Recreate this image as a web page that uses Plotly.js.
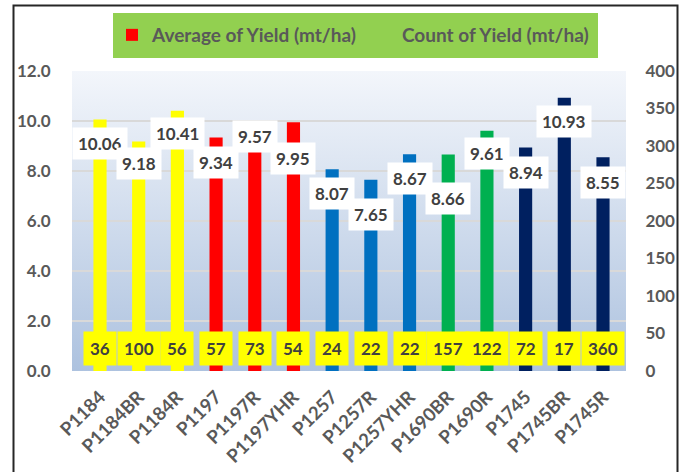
<!DOCTYPE html>
<html>
<head>
<meta charset="utf-8">
<script src="https://cdn.plot.ly/plotly-3.0.1.min.js"></script>
<style>html,body{margin:0;padding:0;background:#fff;}#chart{width:682px;height:472px;}</style>
</head>
<body>
<div id="chart"></div>
<script>
// ---- data ----
const categories = ['P1184','P1184BR','P1184R','P1197','P1197R','P1197YHR','P1257','P1257R','P1257YHR','P1690BR','P1690R','P1745','P1745BR','P1745R'];
const avgYield = [10.06, 9.18, 10.41, 9.34, 9.57, 9.95, 8.07, 7.65, 8.67, 8.66, 9.61, 8.94, 10.93, 8.55];
const countYield = [36, 100, 56, 57, 73, 54, 24, 22, 22, 157, 122, 72, 17, 360];
const varietyGroup = ['P1184','P1184','P1184','P1197','P1197','P1197','P1257','P1257','P1257','P1690','P1690','P1745','P1745','P1745'];
const leftTicks = [0, 2, 4, 6, 8, 10, 12];
const rightTicks = [0, 50, 100, 150, 200, 250, 300, 350, 400];
const seriesNames = ['Average of Yield (mt/ha)', 'Count of Yield (mt/ha)'];

// ---- styles ----
const groupColors = {P1184:'#ffff00', P1197:'#ff0000', P1257:'#0070c0', P1690:'#00b050', P1745:'#002060'};
const groups = [...new Set(varietyGroup)];
const W = 682, H = 472, ML = 72, MR = 56, MT = 71, MB = 101;
const PW = W - ML - MR, PH = H - MT - MB;
const xp = px => (px - ML) / PW;
const yp = py => (H - MB - py) / PH;
const tickFont = {family: 'Lato', size: 17, weight: 'bold', color: '#595959'};
const xTickFont = {family: 'Lato', size: 18.5, weight: 'bold', color: '#595959'};
const legendFont = {family: 'Lato', size: 19, weight: 'bold', color: '#595959'};
const labelFont = {family: 'Lato', size: 17, weight: 'bold', color: '#404040'};
// label offsets (px) to mimic the reference's de-overlapped label placement
const labelShift = [-24, -22, -23, -25, -5, -36, -24, -35, -24, -44, -23, -25, -24, -25];

const traces = groups.map(g => {
  const idx = categories.map((c, i) => i).filter(i => varietyGroup[i] === g);
  return {
    type: 'bar',
    x: idx.map(i => categories[i]),
    y: idx.map(i => avgYield[i]),
    marker: {color: groupColors[g]},
    width: 0.34,
    name: seriesNames[0],
    showlegend: g === 'P1197',
    legendrank: 1,
    hoverinfo: 'skip'
  };
});
traces.push({
  type: 'bar',
  x: categories,
  y: countYield,
  yaxis: 'y2',
  marker: {color: 'rgba(0,0,0,0)'},
  width: 0.34,
  name: seriesNames[1],
  legendrank: 2,
  hoverinfo: 'skip'
});

const annotations = [];
categories.forEach((c, i) => {
  annotations.push({
    x: c, y: avgYield[i], xref: 'x', yref: 'y',
    text: avgYield[i].toFixed(2), showarrow: false,
    yshift: labelShift[i], font: labelFont,
    bgcolor: '#ffffff', borderpad: 5
  });
  annotations.push({
    x: c, y: 0.9, xref: 'x', yref: 'y',
    text: String(countYield[i]), showarrow: false,
    font: labelFont, bgcolor: '#ffff00', borderpad: 6
  });
});

const gradSvg = "<svg xmlns='http://www.w3.org/2000/svg' width='100' height='100' preserveAspectRatio='none'><defs><linearGradient id='g' x1='0' y1='0' x2='0' y2='1'><stop offset='0' stop-color='#f3f6fb'/><stop offset='1' stop-color='#adc2df'/></linearGradient></defs><rect width='100' height='100' fill='url(#g)'/></svg>";

const layout = {
  width: W, height: H,
  margin: {l: ML, r: MR, t: MT, b: MB, pad: 0},
  paper_bgcolor: '#ffffff',
  plot_bgcolor: 'rgba(0,0,0,0)',
  font: {family: 'Lato', color: '#595959'},
  barmode: 'overlay',
  showlegend: true,
  legend: {
    orientation: 'h', x: xp(112), xanchor: 'left', y: yp(35), yanchor: 'middle',
    bgcolor: 'rgba(0,0,0,0)', font: legendFont, itemclick: false, itemdoubleclick: false
  },
  xaxis: {
    type: 'category', categoryorder: 'array', categoryarray: categories,
    tickangle: -45, tickfont: xTickFont, ticks: 'outside', ticklen: 7,
    tickcolor: 'rgba(0,0,0,0)', showgrid: false, showline: false, zeroline: false,
    fixedrange: true
  },
  yaxis: {
    range: [0, 12], tickvals: leftTicks, tickformat: '.1f', tickfont: tickFont,
    ticks: 'outside', ticklen: 17, tickcolor: 'rgba(0,0,0,0)',
    showgrid: true, gridcolor: '#d9d9d9', gridwidth: 2, zeroline: false, showline: false,
    fixedrange: true
  },
  yaxis2: {
    overlaying: 'y', side: 'right', range: [0, 400], tickvals: rightTicks,
    tickfont: tickFont, ticks: 'outside', ticklen: 15, tickcolor: 'rgba(0,0,0,0)',
    showgrid: false, zeroline: false, showline: false, fixedrange: true
  },
  images: [{
    source: 'data:image/svg+xml;charset=utf-8,' + encodeURIComponent(gradSvg),
    xref: 'paper', yref: 'paper', x: 0, y: 1, sizex: 1, sizey: 1,
    sizing: 'stretch', layer: 'below', xanchor: 'left', yanchor: 'top'
  }],
  shapes: [
    {type: 'rect', xref: 'paper', yref: 'paper', x0: xp(113), x1: xp(598), y0: yp(58), y1: yp(13),
     fillcolor: '#92d050', line: {width: 0}, layer: 'below'},
    {type: 'rect', xref: 'paper', yref: 'paper', x0: xp(13.5), x1: xp(677.5), y0: yp(500), y1: yp(5.5),
     fillcolor: 'rgba(0,0,0,0)', line: {color: '#262626', width: 2}, layer: 'above'}
  ],
  annotations: annotations
};

Plotly.newPlot('chart', traces, layout, {displayModeBar: false, staticPlot: true});
</script>
</body>
</html>
